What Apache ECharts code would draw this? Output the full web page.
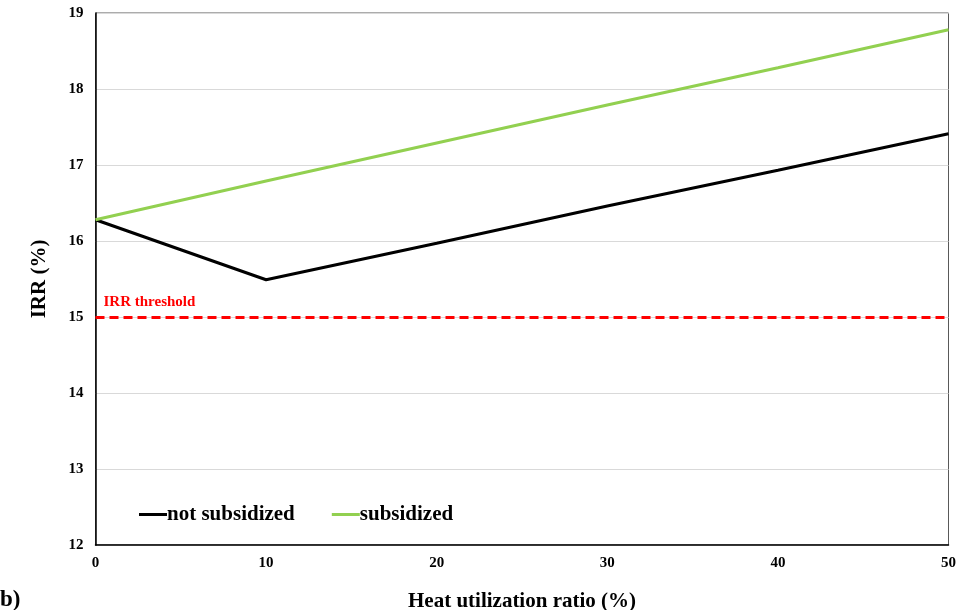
<!DOCTYPE html>
<html>
<head>
<meta charset="utf-8">
<script src="https://cdn.jsdelivr.net/npm/echarts@6/dist/echarts.min.js"></script>
<style>html,body{margin:0;padding:0;background:#fff}#c{width:959px;height:610px}</style>
</head>
<body>
<div id="c"></div>
<script>
var heatRatio = [0, 10, 20, 30, 40, 50];
var notSubsidized = [16.28, 15.49, 15.97, 16.46, 16.93, 17.41];
var subsidized = [16.28, 16.79, 17.29, 17.79, 18.28, 18.78];
var threshold = 15;
var yTicks = [12, 13, 14, 15, 16, 17, 18, 19];

var font = '"Liberation Serif", "Times New Roman", serif';
function pairs(xs, ys){ return xs.map(function(x,i){ return [x, ys[i]]; }); }

var chart = echarts.init(document.getElementById('c'));
chart.setOption({
  animation: false,
  grid: { left: 95.5, right: 10.5, top: 13, bottom: 65, show: true, borderColor: '#595959', borderWidth: 1,
          outerBoundsMode: 'none', containLabel: false },
  xAxis: {
    type: 'value', min: 0, max: 50, interval: 10,
    name: 'Heat utilization ratio (%)', nameLocation: 'middle', nameGap: 46,
    nameTextStyle: { fontFamily: font, fontWeight: 700, fontSize: 21, color: '#000' },
    axisLine: { show: true, lineStyle: { color: '#000', width: 1.5 } },
    axisTick: { show: false },
    splitLine: { show: false },
    axisLabel: { fontFamily: font, fontWeight: 700, fontSize: 15, color: '#000', margin: 11 }
  },
  yAxis: {
    type: 'value', min: yTicks[0], max: yTicks[yTicks.length-1], interval: 1,
    name: 'IRR (%)', nameLocation: 'middle', nameGap: 45,
    nameTextStyle: { fontFamily: font, fontWeight: 700, fontSize: 21, color: '#000' },
    axisLine: { show: true, lineStyle: { color: '#000', width: 1.5 } },
    axisTick: { show: false },
    splitLine: { show: true, lineStyle: { color: '#d9d9d9', width: 1 } },
    axisLabel: { fontFamily: font, fontWeight: 700, fontSize: 15, color: '#000', margin: 12 }
  },
  legend: {
    left: 134, top: 499, itemWidth: 28, itemHeight: 3, itemGap: 37, icon: 'rect',
    textStyle: { fontFamily: font, fontWeight: 700, fontSize: 21, color: '#000', padding: [0,0,0,-5] },
    data: ['not subsidized', 'subsidized']
  },
  series: [
    { name: 'not subsidized', type: 'line', data: pairs(heatRatio, notSubsidized), symbol: 'none',
      lineStyle: { color: '#000', width: 3 }, itemStyle: { color: '#000' }, z: 3 },
    { name: 'subsidized', type: 'line', data: pairs(heatRatio, subsidized), symbol: 'none',
      lineStyle: { color: '#92d050', width: 3 }, itemStyle: { color: '#92d050' }, z: 4,
      markLine: {
        silent: true, symbol: 'none',
        lineStyle: { color: '#ff0000', width: 3, type: [9, 5] },
        label: { show: true, position: 'insideStartTop', formatter: 'IRR threshold',
          fontFamily: font, fontWeight: 700, fontSize: 15, color: '#ff0000', distance: [8, 7] },
        data: [{ yAxis: threshold }]
      }
    }
  ],
  graphic: [
    { type: 'text', left: 0, top: 589, style: { text: 'b)', fontFamily: font, fontWeight: 700, fontSize: 23, fill: '#000' } }
  ]
});
</script>
</body>
</html>
